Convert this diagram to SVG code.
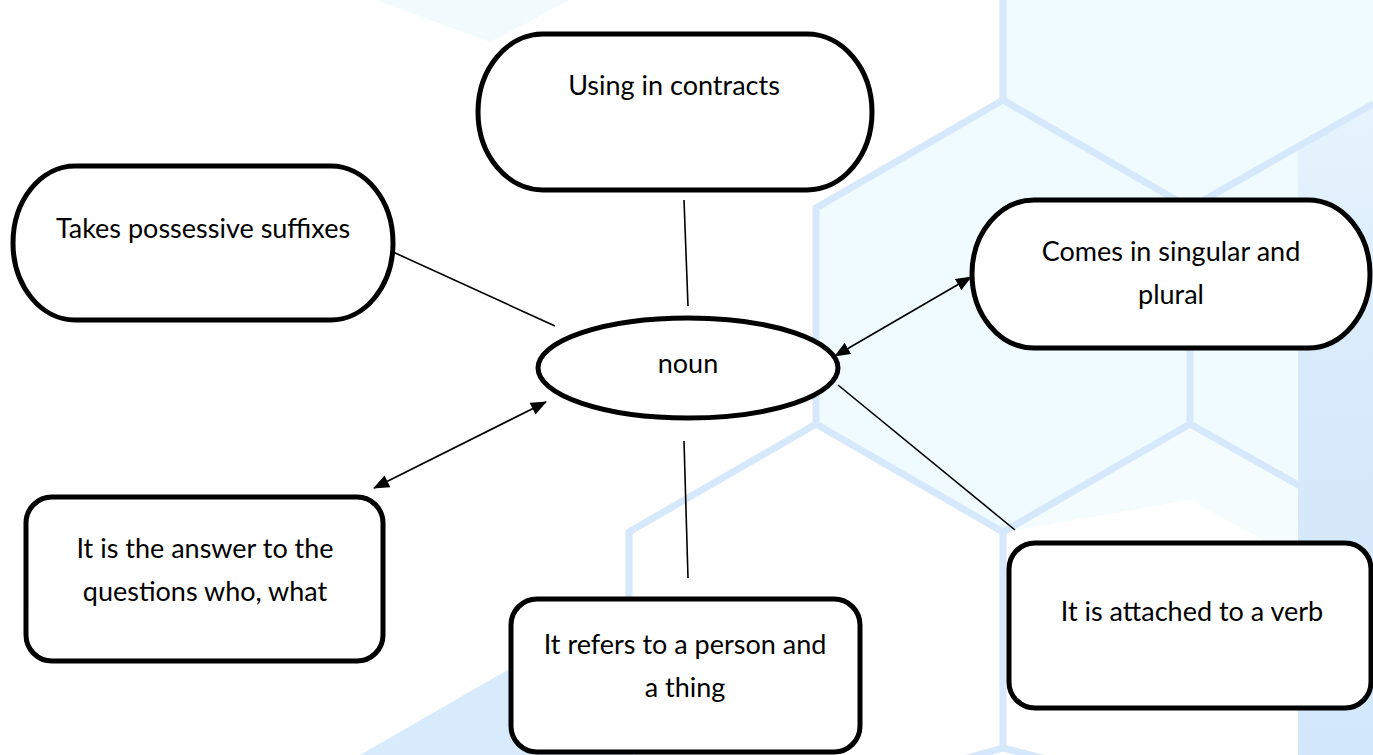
<svg xmlns="http://www.w3.org/2000/svg" width="1373" height="755" viewBox="0 0 1373 755">
<defs>
<style>
.node{fill:#ffffff;stroke:#000000;stroke-width:5}
.lbl{font-family:Lato,"Liberation Sans",sans-serif;font-size:27px;fill:#000000;text-anchor:middle}
.conn{stroke:#000000;stroke-width:1.6;fill:none}
.hex{stroke:#d6e8fb;stroke-width:7;fill:none;stroke-linejoin:round}
</style>
<marker id="ah" markerUnits="userSpaceOnUse" viewBox="0 0 16 13" markerWidth="16" markerHeight="13" refX="15" refY="6.5" orient="auto-start-reverse">
<path d="M0,0 L16,6.5 L0,13 z" fill="#000000"/>
</marker>
<linearGradient id="strip" x1="0" y1="0" x2="0" y2="1">
<stop offset="0" stop-color="#e6f4fd"/>
<stop offset="0.4" stop-color="#d8eafb"/>
<stop offset="1" stop-color="#d3e7fb"/>
</linearGradient>
</defs>
<g id="background">
<rect x="0" y="0" width="1373" height="755" fill="#ffffff"/>
<polygon points="376,0 570,0 490,42" fill="#f1fbfe"/>
<polygon points="816,208 1003,100 1003,0 1373,0 1373,532 1190,424 1003,532 816,424" fill="#effbfe"/>
<polygon points="1003,532 1190,424 1300,486 1300,560 1190,500" fill="#f4fcfe"/>
<polygon points="1298,150 1373,108 1373,755 1298,755" fill="url(#strip)"/>
<polygon points="360,755 629,600 629,755" fill="#d8ebfc"/>
<path class="hex" d="M1003,0 L1003,100 L816,208 L816,424 L1003,532 L1190,424 L1190,208 L1003,100 M1190,208 L1373,104 M816,424 L629,532 L629,755 M1003,532 L1003,748 L960,760 M1003,748 L1050,760 M1190,424 L1300,486"/>
</g>
<g id="connectors">
<line class="conn" x1="684" y1="200" x2="688" y2="306"/>
<line class="conn" x1="393" y1="252" x2="555" y2="326"/>
<line class="conn" x1="838" y1="385" x2="1015" y2="530"/>
<line class="conn" x1="684" y1="441" x2="688" y2="578"/>
<line class="conn" x1="374" y1="488" x2="546" y2="402" marker-start="url(#ah)" marker-end="url(#ah)"/>
<line class="conn" x1="835" y1="356" x2="971" y2="277" marker-start="url(#ah)" marker-end="url(#ah)"/>
</g>
<g id="node-contracts">
<rect class="node" x="478" y="34" width="394" height="156" rx="65" ry="78"/>
<text class="lbl" x="674" y="95">Using in contracts</text>
</g>
<g id="node-possessive">
<rect class="node" x="13" y="166" width="380" height="154" rx="62" ry="77"/>
<text class="lbl" x="203" y="238">Takes possessive suffixes</text>
</g>
<g id="node-singular">
<rect class="node" x="972" y="200" width="398" height="148" rx="62" ry="74"/>
<text class="lbl" x="1171" y="261">Comes in singular and</text>
<text class="lbl" x="1171" y="304">plural</text>
</g>
<g id="node-noun">
<ellipse class="node" cx="688" cy="368" rx="150" ry="50"/>
<text class="lbl" x="688" y="373">noun</text>
</g>
<g id="node-answer">
<rect class="node" x="26" y="497" width="357" height="164" rx="26" ry="26"/>
<text class="lbl" x="205" y="558">It is the answer to the</text>
<text class="lbl" x="205" y="601">questions who, what</text>
</g>
<g id="node-refers">
<rect class="node" x="511" y="599" width="349" height="153" rx="26" ry="26"/>
<text class="lbl" x="685" y="654">It refers to a person and</text>
<text class="lbl" x="685" y="697">a thing</text>
</g>
<g id="node-verb">
<rect class="node" x="1009" y="543" width="362" height="165" rx="26" ry="26"/>
<text class="lbl" x="1192" y="621">It is attached to a verb</text>
</g>
</svg>
